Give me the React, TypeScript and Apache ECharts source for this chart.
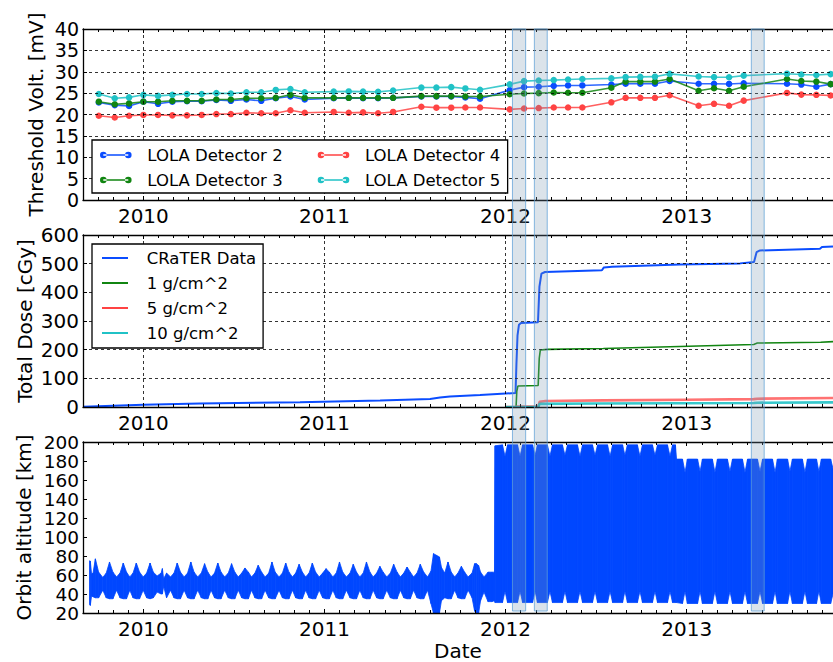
import React, { useEffect, useRef } from "react";
import * as echarts from "echarts";

// ---------- axis range (decimal years) ----------
const X_MIN = 2009 + 8 / 12;
const X_MAX = 2013.808;

// ---------- panel 1 : LOLA detector thresholds ----------
const detTimes = [2009.754, 2009.842, 2009.921, 2010.0, 2010.081, 2010.16, 2010.241, 2010.322, 2010.403, 2010.483, 2010.569, 2010.651, 2010.731, 2010.812, 2010.891, 2011.051, 2011.134, 2011.213, 2011.296, 2011.379, 2011.535, 2011.618, 2011.7, 2011.778, 2011.859, 2012.023, 2012.102, 2012.183, 2012.266, 2012.345, 2012.424, 2012.584, 2012.663, 2012.744, 2012.825, 2012.906, 2013.066, 2013.151, 2013.234, 2013.315, 2013.554, 2013.633, 2013.716, 2013.795];
const det2 = [22.8, 22.2, 22.0, 23.0, 22.5, 23.0, 23.1, 23.1, 23.4, 23.2, 23.5, 23.2, 23.8, 24.2, 23.5, 23.8, 23.9, 23.8, 23.8, 23.9, 24.2, 24.2, 24.2, 24.0, 23.7, 25.7, 26.4, 26.5, 26.7, 26.8, 26.8, 27.0, 27.2, 27.2, 27.2, 27.85, 27.2, 27.2, 27.15, 27.3, 27.2, 27.0, 26.5, 27.1];
const det3 = [23.0, 22.4, 22.6, 23.0, 23.0, 23.2, 23.2, 23.2, 23.5, 23.5, 23.8, 23.8, 23.9, 24.6, 23.9, 23.9, 23.9, 23.9, 23.9, 23.9, 24.3, 24.3, 24.3, 24.2, 24.2, 24.75, 24.9, 25.0, 25.15, 25.1, 25.1, 26.25, 27.7, 27.7, 27.7, 28.3, 25.55, 26.15, 25.55, 26.5, 28.3, 27.85, 27.7, 27.1];
const det4 = [19.7, 19.3, 19.7, 19.9, 19.9, 19.8, 19.8, 19.9, 20.1, 20.1, 20.4, 20.3, 20.3, 21.0, 20.4, 20.6, 20.4, 20.5, 20.3, 20.6, 21.8, 21.6, 21.6, 21.65, 21.65, 21.2, 21.4, 21.5, 21.65, 21.65, 21.65, 22.85, 23.9, 23.9, 23.9, 24.5, 22.05, 22.5, 22.05, 23.25, 25.05, 24.65, 24.6, 24.45];
const det5 = [24.8, 23.8, 24.0, 24.6, 24.35, 24.6, 24.8, 24.8, 25.0, 24.9, 25.2, 25.2, 25.75, 25.95, 25.2, 25.35, 25.4, 25.35, 25.3, 25.6, 26.3, 26.3, 26.4, 26.1, 25.8, 27.05, 27.8, 27.95, 28.05, 28.2, 28.3, 28.45, 28.75, 28.8, 28.85, 29.5, 28.9, 28.75, 28.7, 29.1, 29.55, 29.35, 29.25, 29.45];
const detNames = ["LOLA Detector 2", "LOLA Detector 3", "LOLA Detector 4", "LOLA Detector 5"];

// ---------- panel 2 : total dose ----------
const craterT = [2009.667, 2010.0, 2010.313, 2010.865, 2011.307, 2011.583, 2011.638, 2011.693, 2011.859, 2012.055, 2012.06, 2012.066, 2012.074, 2012.085, 2012.179, 2012.187, 2012.198, 2012.218, 2012.532, 2012.543, 2012.588, 2012.963, 2013.295, 2013.372, 2013.386, 2013.405, 2013.736, 2013.747, 2013.808];
const craterV = [1, 8, 12, 17, 23, 28, 33, 37, 42, 49, 150, 250, 287, 293, 296, 420, 465, 471, 477, 487, 489, 497, 501, 506, 540, 546, 552, 558, 560];
const g1T = [2012.0, 2012.058, 2012.062, 2012.068, 2012.18, 2012.186, 2012.192, 2012.23, 2012.54, 2012.96, 2013.37, 2013.39, 2013.74, 2013.808];
const g1V = [0, 0, 55, 73, 75, 170, 199, 201, 204, 211, 218, 223, 226, 228];
const g5T = [2012.0, 2012.058, 2012.064, 2012.181, 2012.188, 2012.22, 2012.54, 2013.0, 2013.37, 2013.39, 2013.808];
const g5V = [0, 0, 2, 2, 18, 21, 23, 25.5, 27.5, 29, 31.5];
const g10T = [2012.0, 2012.181, 2012.188, 2012.5, 2013.37, 2013.39, 2013.808];
const g10V = [0, 0.5, 11, 12, 14, 15, 16];
const doseNames = ["CRaTER Data", "1 g/cm^2", "5 g/cm^2", "10 g/cm^2"];

// ---------- panel 3 : orbit altitude envelope ----------
const orbitT = [
  2009.703, 2009.707, 2009.714, 2009.722, 2009.735, 2009.753, 2009.776, 2009.795, 2009.813, 2009.832,
  2009.852, 2009.871, 2009.889, 2009.907, 2009.925, 2009.943, 2009.961, 2009.979, 2009.999, 2010.018,
  2010.037, 2010.055, 2010.076, 2010.098, 2010.105, 2010.112, 2010.128, 2010.15, 2010.169, 2010.187,
  2010.205, 2010.225, 2010.244, 2010.262, 2010.28, 2010.3, 2010.32, 2010.338, 2010.356, 2010.374,
  2010.393, 2010.411, 2010.429, 2010.449, 2010.469, 2010.487, 2010.505, 2010.524, 2010.543, 2010.561,
  2010.58, 2010.597, 2010.616, 2010.634, 2010.653, 2010.672, 2010.692, 2010.71, 2010.728, 2010.749,
  2010.768, 2010.786, 2010.804, 2010.823, 2010.841, 2010.86, 2010.878, 2010.896, 2010.915, 2010.933,
  2010.951, 2010.971, 2010.99, 2011.009, 2011.027, 2011.046, 2011.065, 2011.083, 2011.101, 2011.121,
  2011.141, 2011.159, 2011.177, 2011.195, 2011.214, 2011.232, 2011.251, 2011.269, 2011.288, 2011.306,
  2011.324, 2011.344, 2011.364, 2011.382, 2011.401, 2011.419, 2011.438, 2011.456, 2011.474, 2011.492,
  2011.511, 2011.529, 2011.548, 2011.569, 2011.588, 2011.602, 2011.616, 2011.635, 2011.646, 2011.664,
  2011.682, 2011.7, 2011.719, 2011.737, 2011.756, 2011.774, 2011.793, 2011.815, 2011.829, 2011.838,
  2011.851, 2011.862, 2011.881, 2011.903, 2011.925, 2011.939,
  2011.942, 2011.983, 2011.997, 2012.011, 2012.066, 2012.08, 2012.094, 2012.149, 2012.163, 2012.176,
  2012.231, 2012.245, 2012.259, 2012.314, 2012.328, 2012.342, 2012.397, 2012.411, 2012.425, 2012.48,
  2012.494, 2012.508, 2012.563, 2012.577, 2012.591, 2012.646, 2012.659, 2012.673, 2012.728, 2012.742,
  2012.756, 2012.811, 2012.825, 2012.839, 2012.894, 2012.908, 2012.922, 2012.938, 2012.944, 2012.977,
  2012.991, 2013.004, 2013.06, 2013.074, 2013.087, 2013.142, 2013.156, 2013.17, 2013.225, 2013.239,
  2013.253, 2013.308, 2013.322, 2013.336, 2013.391, 2013.405, 2013.419, 2013.474, 2013.488, 2013.501,
  2013.557, 2013.57, 2013.584, 2013.639, 2013.653, 2013.667, 2013.717, 2013.73, 2013.744, 2013.795,
  2013.808
];
const orbitUp = [
  75, 74.7, 61, 62, 77, 63, 57.5, 62, 73.7, 63,
  58, 62, 72.6, 63, 58, 62, 72.6, 63, 58, 62,
  72.6, 63, 59, 62, 66.7, 56, 62, 58, 62, 72.6,
  63, 58, 62, 73.7, 63, 58, 62, 71.9, 63, 58,
  62, 72.6, 63, 58, 62, 71.9, 63, 58, 62, 67.4,
  63, 58, 62, 70.2, 63, 58, 62, 73.7, 63, 58,
  62, 72.6, 63, 58, 62, 71.3, 63, 58, 62, 72.6,
  63, 58, 62, 66.7, 63, 58, 62, 73.7, 63, 58,
  62, 71.3, 63, 58, 62, 73.7, 63, 58, 62, 69.1,
  63, 58, 62, 71.3, 63, 58, 62, 68.4, 63, 58,
  62, 71.3, 63, 58, 64, 82.5, 81, 79, 68, 62,
  73.7, 63, 58, 62, 69.1, 63, 58, 62, 71.9, 72,
  70, 63, 58, 63, 63, 63,
  196, 197, 185, 197, 197, 185, 197, 197, 186, 197,
  197, 185, 197, 197, 186, 197, 197, 185, 197, 197,
  186, 197, 197, 185, 197, 197, 186, 197, 197, 185,
  197, 197, 186, 197, 197, 185, 197, 197, 182, 182,
  168, 182, 182, 169, 182, 182, 168, 182, 182, 169,
  182, 182, 168, 182, 182, 169, 182, 182, 168, 182,
  182, 169, 182, 182, 168, 182, 182, 169, 182, 182,
  172
];
const orbitLo = [
  29, 28, 38, 37, 36, 36, 44, 36, 35, 35,
  44, 36, 35, 35, 44, 36, 35, 35, 44, 36,
  35, 36, 42, 40, 40, 48, 36, 44, 36, 35,
  35, 44, 36, 35, 35, 44, 36, 35, 35, 44,
  36, 35, 35, 44, 36, 35, 35, 44, 36, 35,
  35, 44, 36, 35, 35, 44, 36, 35, 35, 44,
  36, 35, 35, 44, 36, 35, 35, 44, 36, 35,
  35, 44, 36, 35, 35, 44, 36, 35, 35, 44,
  36, 35, 35, 44, 36, 35, 35, 44, 36, 35,
  35, 44, 36, 35, 35, 44, 36, 35, 35, 44,
  36, 35, 35, 44, 30, 20, 20, 20, 33, 36,
  35, 35, 44, 36, 35, 35, 44, 36, 22, 20,
  20, 33, 42, 32, 32, 33,
  31, 31, 43, 31, 31, 43, 31, 31, 43, 31,
  31, 43, 31, 31, 43, 31, 31, 43, 31, 31,
  43, 31, 31, 43, 31, 31, 43, 31, 31, 43,
  31, 31, 43, 31, 31, 43, 31, 31, 31, 30,
  43, 30, 30, 43, 30, 30, 43, 30, 30, 43,
  30, 30, 43, 30, 30, 43, 30, 30, 43, 30,
  30, 43, 30, 30, 43, 30, 30, 43, 30, 30,
  40
];

// ---------- highlighted periods ----------
const bandStart = [2012.038, 2012.159, 2013.357];
const bandEnd = [2012.111, 2012.23, 2013.428];

// ---------- styling ----------
const BLUE = "#0a4cff";
const GREEN = "#118511";
const RED = "#ff4343";
const CYAN = "#20c2c6";
const ORBIT = "#0047ff";
const FONT = "DejaVu Sans";

const zip = (t: number[], v: number[]) => t.map((x, i) => [x, v[i]]);
const yearLabel = (v: number) => {
  const r = Math.round(v);
  return Math.abs(v - r) < 1e-6 ? String(r) : "";
};

const AXIS_LINE = { show: true, onZero: false, lineStyle: { color: "#000", width: 1.3 } };
const GRID_LINE = { color: "#000", type: [3, 3] as any, width: 0.8 };

function xAxisFor(gridIndex: number, position: "bottom" | "top", labels: boolean, split: boolean, name?: string) {
  return {
    type: "value",
    gridIndex,
    position,
    min: X_MIN,
    max: X_MAX,
    minInterval: 1,
    maxInterval: 1,
    axisLine: AXIS_LINE,
    axisTick: { show: true, inside: true, length: 4, lineStyle: { color: "#000", width: 1 } },
    minorTick: { show: true, splitNumber: 12, length: 3, lineStyle: { color: "#000", width: 1 } },
    axisLabel: {
      show: labels,
      fontSize: 20,
      color: "#000",
      fontFamily: FONT,
      margin: 6,
      showMinLabel: false,
      showMaxLabel: false,
      formatter: yearLabel,
    },
    splitLine: { show: split, lineStyle: GRID_LINE },
    name: name,
    nameLocation: "middle",
    nameGap: 28,
    nameTextStyle: { fontSize: 20, color: "#000", fontFamily: FONT },
    z: 5,
  };
}

function yAxisFor(
  gridIndex: number, min: number, max: number, interval: number,
  name: string, nameGap: number, split: boolean, labelSize: number
) {
  return {
    type: "value",
    gridIndex,
    min,
    max,
    interval,
    name,
    nameLocation: "middle",
    nameGap,
    nameMoveOverlap: false,
    nameTextStyle: { fontSize: 20, color: "#000", fontFamily: FONT },
    axisLine: AXIS_LINE,
    axisTick: { show: true, inside: true, length: 4, lineStyle: { color: "#000", width: 1 } },
    axisLabel: {
      fontSize: labelSize,
      lineHeight: labelSize - 2,
      color: "#000",
      fontFamily: FONT,
      margin: 4,
      showMinLabel: true,
      showMaxLabel: true,
    },
    splitLine: { show: split, lineStyle: GRID_LINE },
    z: 5,
  };
}

const MARK_ICON =
  "path://M0,3.3A3.3,3.3,0,1,0,6.6,3.3A3.3,3.3,0,1,0,0,3.3Z M25,3.3A3.3,3.3,0,1,0,31.6,3.3A3.3,3.3,0,1,0,25,3.3Z M3.3,2.5L28.3,2.5L28.3,4.1L3.3,4.1Z";
const LINE_ICON = "path://M0,0L26,0L26,2L0,2Z";

export default function App() {
  const ref = useRef<HTMLDivElement>(null);

  useEffect(() => {
    const chart = echarts.init(ref.current!, null, { renderer: "svg" });

    const detColors = [BLUE, GREEN, RED, CYAN];
    const detData = [det2, det3, det4, det5];
    const detSeries = detNames.map((name, i) => ({
      name,
      type: "line",
      xAxisIndex: 0,
      yAxisIndex: 0,
      data: zip(detTimes, detData[i]),
      symbol: "circle",
      symbolSize: 6.5,
      showSymbol: true,
      itemStyle: { color: detColors[i] },
      lineStyle: { color: detColors[i], width: 1.6, opacity: 0.85 },
      z: 2,
    }));

    const doseSpec = [
      { t: craterT, v: craterV, c: BLUE, w: 2, o: 1 },
      { t: g1T, v: g1V, c: GREEN, w: 1.6, o: 1 },
      { t: g5T, v: g5V, c: RED, w: 2.6, o: 0.75 },
      { t: g10T, v: g10V, c: CYAN, w: 2.6, o: 0.9 },
    ];
    const doseSeries = doseNames.map((name, i) => ({
      name,
      type: "line",
      xAxisIndex: 2,
      yAxisIndex: 1,
      data: zip(doseSpec[i].t, doseSpec[i].v),
      symbol: "none",
      showSymbol: false,
      itemStyle: { color: doseSpec[i].c },
      lineStyle: { color: doseSpec[i].c, width: doseSpec[i].w, opacity: doseSpec[i].o },
      z: 2,
    }));

    const orbitSegments = orbitT.slice(0, -1).map((t, i) => [
      t, orbitUp[i], orbitLo[i], orbitT[i + 1], orbitUp[i + 1], orbitLo[i + 1],
    ]);

    const orbitSeries = {
      name: "Orbit altitude",
      type: "custom",
      xAxisIndex: 4,
      yAxisIndex: 2,
      clip: true,
      encode: { x: [0, 3], y: [1, 2, 4, 5] },
      data: orbitSegments,
      renderItem: (_params: any, api: any) => {
        const a = api.coord([api.value(0), api.value(1)]);
        const b = api.coord([api.value(3), api.value(4)]);
        const c = api.coord([api.value(3), api.value(5)]);
        const d = api.coord([api.value(0), api.value(2)]);
        return {
          type: "polygon",
          shape: { points: [a, b, c, d] },
          style: { fill: ORBIT, stroke: ORBIT, lineWidth: 0.8 },
        };
      },
      z: 2,
    };

    const bandSeries = {
      name: "bands",
      type: "line",
      xAxisIndex: 6,
      yAxisIndex: 3,
      data: [],
      silent: true,
      z: 10,
      markArea: {
        silent: true,
        z: 10,
        itemStyle: {
          color: "rgba(123,150,176,0.27)",
          borderColor: "rgba(95,160,215,0.75)",
          borderWidth: 1,
        },
        label: { show: false },
        data: bandStart.map((s, i) => [{ xAxis: s }, { xAxis: bandEnd[i] }]),
      },
    };

    const legendText = (pad: number) => ({
      fontSize: 16.5,
      color: "#000",
      fontFamily: FONT,
      lineHeight: 18,
      padding: [0, 0, 0, pad],
    });

    const option: any = {
      animation: false,
      textStyle: { fontFamily: FONT },
      grid: [
        { left: 83, right: 0, top: 29, height: 171, outerBoundsMode: "none", containLabel: false },
        { left: 83, right: 0, top: 235, height: 172, outerBoundsMode: "none", containLabel: false },
        { left: 83, right: 0, top: 442, height: 171, outerBoundsMode: "none", containLabel: false },
        { left: 83, right: 0, top: 29, height: 582, outerBoundsMode: "none", containLabel: false },
      ],
      xAxis: [
        xAxisFor(0, "bottom", true, true),
        xAxisFor(0, "top", false, false),
        xAxisFor(1, "bottom", true, true),
        xAxisFor(1, "top", false, false),
        xAxisFor(2, "bottom", true, false, "Date"),
        xAxisFor(2, "top", false, false),
        { type: "value", gridIndex: 3, min: X_MIN, max: X_MAX, show: false },
      ],
      yAxis: [
        yAxisFor(0, 0, 40, 5, "Threshold Volt. [mV]", 37, true, 19),
        yAxisFor(1, 0, 600, 100, "Total Dose [cGy]", 48, true, 20),
        yAxisFor(2, 20, 200, 20, "Orbit altitude [km]", 49, false, 18.5),
        { type: "value", gridIndex: 3, min: 0, max: 1, show: false },
      ],
      legend: [
        {
          data: [detNames[0], detNames[1]],
          orient: "vertical",
          left: 92,
          top: 140,
          padding: [6, 225, 4, 8],
          itemGap: 7,
          itemWidth: 31.6,
          itemHeight: 6.6,
          icon: MARK_ICON,
          backgroundColor: "#fff",
          borderColor: "#000",
          borderWidth: 1.3,
          borderRadius: 0,
          selectedMode: false,
          textStyle: legendText(10.7),
          z: 20,
        },
        {
          data: [detNames[2], detNames[3]],
          orient: "vertical",
          left: 317.7,
          top: 146,
          padding: 0,
          itemGap: 7,
          itemWidth: 31.6,
          itemHeight: 6.6,
          icon: MARK_ICON,
          selectedMode: false,
          textStyle: legendText(10.7),
          z: 21,
        },
        {
          data: doseNames,
          orient: "vertical",
          left: 92,
          top: 244,
          padding: [5, 7, 6, 10],
          itemGap: 7,
          itemWidth: 26.5,
          itemHeight: 2,
          icon: LINE_ICON,
          backgroundColor: "#fff",
          borderColor: "#000",
          borderWidth: 1.3,
          borderRadius: 0,
          selectedMode: false,
          textStyle: legendText(13.5),
          z: 20,
        },
      ],
      series: [...detSeries, ...doseSeries, orbitSeries, bandSeries],
    };

    chart.setOption(option);
    return () => chart.dispose();
  }, []);

  return (
    <div
      ref={ref}
      style={{ position: "absolute", left: 0, top: 0, width: 833, height: 662, background: "#fff" }}
    />
  );
}
